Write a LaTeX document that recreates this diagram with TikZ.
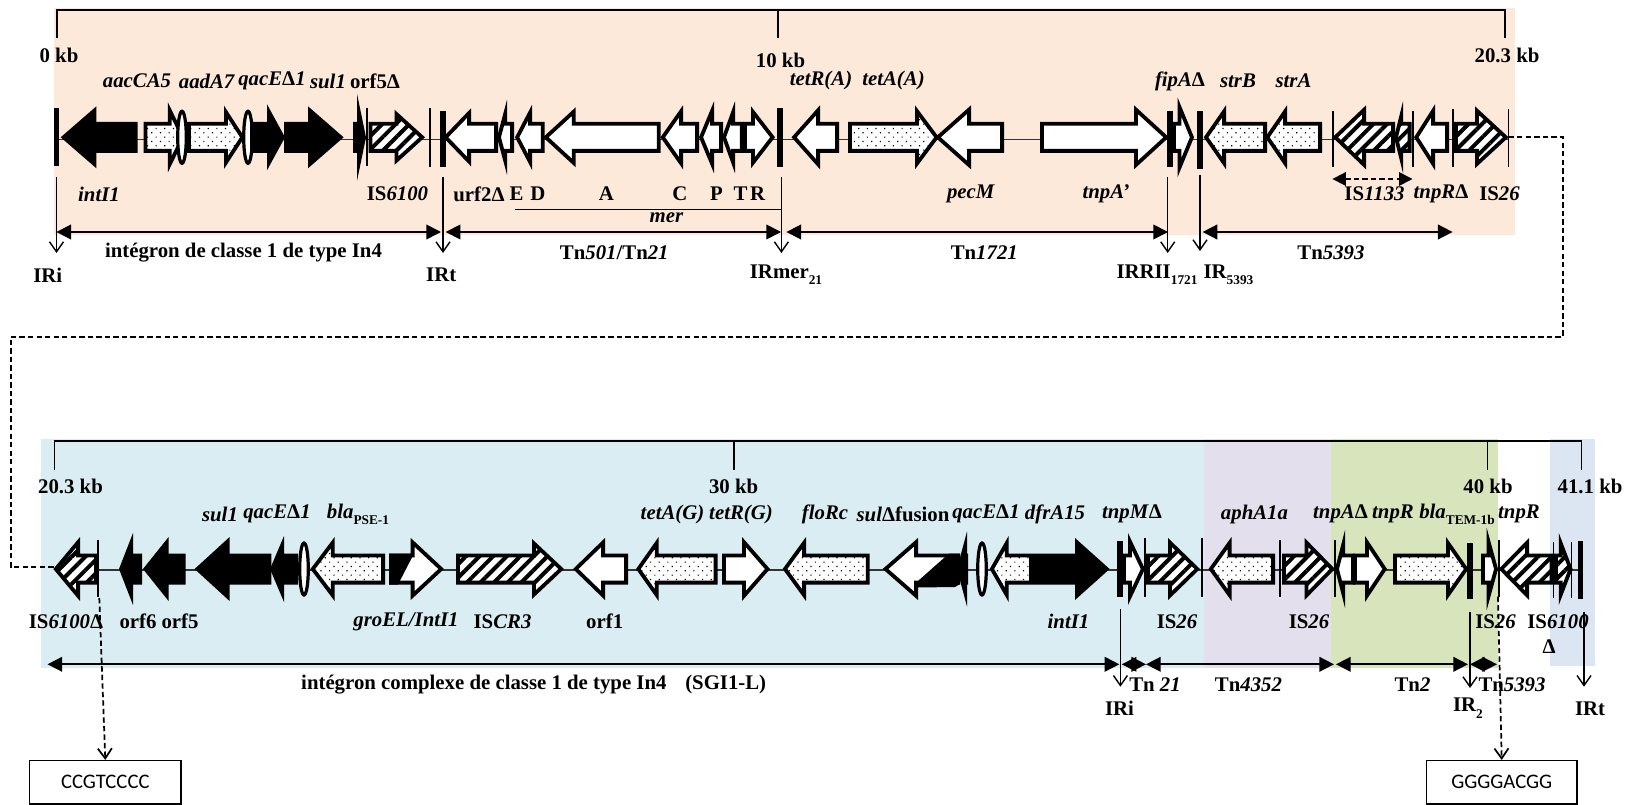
\documentclass[tikz,border=0pt]{standalone}
\usepackage{fontspec}
\setmainfont{Liberation Serif}
\newfontfamily\boxfont{Carlito}
\usetikzlibrary{arrows.meta,patterns.meta}
\newcommand\I[1]{\textit{#1}}
\newcommand\lowsub[1]{\raisebox{-0.3em}{\fontsize{10}{10}\selectfont #1}}
\newcommand\ry{0}
\newcommand\hbody{15.5}
% generic gene: style, tail, base, tip, half head (outer dims), half-stroke
\newcommand\genepath[6]{%
  \pgfmathsetmacro\gs{(#4>#2)?1:-1}%
  \pgfmathsetmacro\gL{abs(#4-#3)}%
  \pgfmathsetmacro\gr{#5*\gL/(#5+sqrt(#5*#5+\gL*\gL))}%
  \pgfmathsetmacro\gk{(\gr-#6)/\gr}%
  \pgfmathsetmacro\gT{#2+\gs*#6}%
  \pgfmathsetmacro\gB{#3+\gs*#6}%
  \pgfmathsetmacro\gP{\gB+\gs*\gL*\gk}%
  \pgfmathsetmacro\gH{#5*\gk}%
  \pgfmathsetmacro\gb{\hbody-#6}%
  \path[#1] (\gT,\ry-\gb) -- (\gB,\ry-\gb) -- (\gB,\ry-\gH) -- (\gP,\ry) -- (\gB,\ry+\gH) -- (\gB,\ry+\gb) -- (\gT,\ry+\gb) -- cycle;}
\newcommand\wgene[4]{\genepath{genew}{#1}{#2}{#3}{#4}{1.9}}
\newcommand\dgene[4]{\genepath{gened}{#1}{#2}{#3}{#4}{1.9}}
\newcommand\hgene[4]{\genepath{geneh}{#1}{#2}{#3}{#4}{1.9}}
\newcommand\bgene[4]{\genepath{geneb}{#1}{#2}{#3}{#4}{0}}
\newcommand\tbar[3]{\draw[thinbar] (#1,#2) -- (#1,#3);}
\newcommand\kbar[3]{\draw[thickbar] (#1,#2) -- (#1,#3);}
\newcommand\lab[4]{\node[lbl] (#1) at (#2,#3) {#4};}
\newcommand\spn[4]{\coordinate (#1a) at (#2,#4); \coordinate (#1b) at (#3,#4); \draw[spanarrow] (#1a) -- (#1b);}
\newcommand\dwn[4]{\coordinate (#1a) at (#2,#3); \coordinate (#1b) at (#2,#4); \draw[downarrow] (#1a) -- (#1b);}
\tikzset{
  x=0.75pt,y=-0.75pt,
  genew/.style={draw=black,line width=2.85pt,fill=white,miter limit=30},
  gened/.style={draw=black,line width=2.85pt,miter limit=30,preaction={fill=white},pattern={Dots[radius=0.62pt,distance=4.6pt,angle=45]}},
  geneh/.style={draw=black,line width=2.85pt,miter limit=30,preaction={fill=white},pattern={Lines[angle=45,distance=7.2pt,line width=3pt]}},
  geneb/.style={fill=black},
  thinbar/.style={draw=black,line width=1.05pt},
  thickbar/.style={draw=black,line width=4.1pt},
  axisline/.style={draw=black,line width=1.25pt},
  backbone/.style={draw=black!80,line width=1.35pt},
  lbl/.style={inner sep=0pt,text=black,font=\bfseries\fontsize{15.6}{17}\selectfont},
  spanarrow/.style={draw=black,line width=1.25pt,{Triangle[length=11pt,width=11pt]}-{Triangle[length=11pt,width=11pt]}},
  downarrow/.style={draw=black,line width=1.05pt,-{Straight Barb[length=7.5pt,width=10.5pt]}},
  dashline/.style={draw=black,line width=1.3pt,dash pattern=on 4pt off 2.4pt},
  seqbox/.style={draw=black,line width=1.05pt,fill=white,inner sep=0pt,font=\boxfont\fontsize{15.5}{18}\selectfont},
  ellip/.style={draw=black,line width=2.4pt,fill=white},
}
\definecolor{peach}{HTML}{FDE9D9}
\definecolor{bleu}{HTML}{DAEDF3}
\definecolor{mauve}{HTML}{E4DFEC}
\definecolor{vert}{HTML}{D8E4BC}
\definecolor{bleub}{HTML}{DCE6F2}
\begin{document}
\begin{tikzpicture}
\useasboundingbox (0,0) rectangle (1626,805);
% backgrounds
\fill[peach] (53.6,8) rectangle (1514.5,235.5);
\fill[bleu] (41,439.3) rectangle (1203.6,668);
\fill[mauve] (1203.6,439.3) rectangle (1331.4,668);
\fill[vert] (1331.4,439.3) rectangle (1498,668);
\fill[bleub] (1550,439.3) rectangle (1594.6,666);
% axes
\draw[axisline] (57,38) -- (57,10) -- (1505,10) -- (1505,38);
\draw[axisline] (778,10) -- (778,38);
\draw[axisline] (54.6,470) -- (54.6,441) -- (1581.4,441) -- (1581.4,470);
\draw[axisline] (734,441) -- (734,470);
\draw[axisline] (1487.4,441) -- (1487.4,470);
% backbones
\draw[backbone] (57,139.5) -- (1508,139.5);
\draw[backbone] (98,570.3) -- (1580,570.3);
% ---------- row 1
\renewcommand\ry{137.3}
\bgene{137.5}{96.4}{60.7}{31}
\dgene{143.6}{167.9}{185}{35}
\draw[ellip] (182,137.3) ellipse [x radius=4.3,y radius=26];
\dgene{187}{224}{244.6}{31.7}
\draw[ellip] (248,137.3) ellipse [x radius=4.3,y radius=26];
\bgene{250}{267}{285}{33}
\bgene{284}{308}{343.6}{31}
\bgene{353}{357}{366}{43.6}
\hgene{368.6}{394.6}{425}{27.5}
\wgene{498}{471}{443}{29}
\wgene{514}{507}{497}{37.5}
\wgene{544.6}{532}{515}{32.5}
\wgene{660.7}{575.7}{543}{30}
\wgene{699}{683}{660.4}{32}
\wgene{723}{714}{699}{36}
\wgene{743.6}{735}{722}{36}
\wgene{743}{751}{775}{31}
\wgene{839}{820}{791.5}{32}
\dgene{848}{915}{939}{32}
\wgene{1004}{971}{935}{32}
\wgene{1040}{1134}{1169}{32}
\wgene{1172}{1177.5}{1194}{40}
\dgene{1267}{1226}{1203.7}{32}
\dgene{1322}{1287}{1265}{32}
\hgene{1395}{1366}{1332.5}{32}
\hgene{1411.5}{1403}{1394}{36}
\wgene{1449}{1435}{1414}{33}
\hgene{1454}{1475}{1508.6}{31}
\kbar{56.6}{108}{166}
\tbar{367}{108}{166}
\tbar{430}{108}{167}
\kbar{443}{111}{167}
\kbar{780}{108}{167}
\kbar{1170}{111}{167}
\kbar{1200}{111}{169}
\tbar{1333}{111}{167}
\tbar{1413}{111}{167}
\tbar{1453}{109}{167}
\tbar{1508.6}{109}{167}
% ---------- row 2
\renewcommand\ry{569}
\hgene{98}{80}{53.3}{32}
\bgene{142}{133}{119}{36}
\bgene{185.7}{168.6}{143}{32}
\bgene{271.4}{229.6}{194.6}{32}
\bgene{298}{284}{270}{33}
\draw[ellip] (304,569) ellipse [x radius=4.3,y radius=26];
\dgene{385}{334.6}{310.4}{32}
\wgene{389}{410.7}{444}{31}
\fill[black] (389,553.5) -- (414,553.5) -- (398,584.5) -- (389,584.5) -- cycle;
\hgene{456}{532}{564}{30}
\wgene{628}{605}{573}{31}
\dgene{717.5}{658.6}{636}{32}
\wgene{722}{742}{770}{32}
\dgene{869.6}{806}{782.6}{32}
\wgene{960}{918}{882.6}{31}
\fill[black] (918,581) -- (949,553.5) -- (960,553.5) -- (960,584) -- (955,587) -- (918,587.5) -- cycle;
\bgene{968}{967}{957}{37.5}
\draw[ellip] (982,569) ellipse [x radius=4.3,y radius=26];
\dgene{1033}{1008.6}{989.7}{33}
\bgene{1033}{1075}{1109.6}{31}
\wgene{1122}{1128}{1145}{36}
\hgene{1146}{1168}{1200}{31}
\dgene{1275}{1231.5}{1208.5}{32}
\hgene{1282}{1304.6}{1335}{31}
\wgene{1355}{1345}{1335}{39}
\wgene{1353}{1365}{1387}{33}
\dgene{1393}{1446}{1468.5}{32}
\wgene{1481}{1486.7}{1498}{41}
\hgene{1553.5}{1529}{1498.6}{31}
\hgene{1554}{1558.8}{1572.6}{36}
\tbar{98}{540}{597}
\kbar{1120}{541}{597}
\tbar{1145}{538}{597}
\tbar{1202}{538}{597}
\tbar{1280}{540}{597}
\tbar{1335}{540}{597}
\kbar{1470}{543}{599}
\tbar{1499}{540}{597}
\tbar{1553.5}{542}{598}
\tbar{1571.6}{542}{598}
\kbar{1580.7}{541}{599}
% mer line
\coordinate (merA) at (515,209.5); \coordinate (merB) at (781,209.5);
\draw[thinbar] (merA) -- (merB);
% spans
\spn{sa}{56.4}{441}{232}
\spn{sb}{445.7}{781}{232}
\spn{sc}{786.4}{1168}{232}
\spn{sd}{1202.6}{1452.6}{232}
\spn{se}{47.5}{1119.3}{664.3}
\spn{sf}{1121.8}{1146}{664.3}
\spn{sg}{1146}{1334}{664.3}
\spn{sh}{1336}{1468}{664.3}
\spn{si}{1470}{1497}{664.3}
\coordinate (isa) at (1332.4,179); \coordinate (isb) at (1412.5,179);
\draw[dashline,{Triangle[length=10pt,width=10pt]}-{Triangle[length=10pt,width=10pt]}] (isa) -- (isb);
% down arrows
\dwn{da}{56.5}{177}{253}
\dwn{db}{443}{177}{253}
\dwn{dc}{781.4}{177}{253}
\dwn{dd}{1167.7}{177}{253}
\dwn{de}{1200}{175}{251}
\dwn{df}{1120.4}{609}{686.7}
\dwn{dg}{1470}{611.7}{688}
\dwn{dh}{1584}{611.7}{686.7}
% row-to-row connector
\coordinate (ca) at (1508.6,137.3);
\coordinate (cb) at (1563,137.3);
\coordinate (cc) at (1563,336.7);
\coordinate (cd) at (10.7,336.7);
\coordinate (ce) at (10.7,566.7);
\coordinate (cf) at (53.6,566.7);
\draw[dashline] (ca) -- (cb) -- (cc) -- (cd) -- (ce) -- (cf);
% boxes
\node[seqbox,minimum width=113.3pt,minimum height=32.5pt] (boxa) at (105.3,782.3) {CCGTCCCC};
\node[seqbox,minimum width=112.9pt,minimum height=32.5pt] (boxb) at (1501.7,782.3) {GGGGACGG};
\coordinate (fa) at (99.3,598);
\coordinate (fb) at (1498,596.7);
\draw[dashline,-{Straight Barb[length=7.5pt,width=10.5pt]}] (fa) -- (boxa.north);
\draw[dashline,-{Straight Barb[length=7.5pt,width=10.5pt]}] (fb) -- (boxb.north);
% labels row 1
\lab{k0}{59}{55}{0 kb}
\lab{k10}{780.5}{60}{10 kb}
\lab{k20}{1507}{55}{20.3 kb}
\lab{t1}{137}{81}{\I{aacCA5}}
\lab{t2}{207}{81}{\I{aadA7}}
\lab{t3}{272}{81}{\I{qacE}Δ\I{1}}
\lab{t4}{328}{81}{\I{sul1}}
\lab{t5}{375}{81}{orf5Δ}
\lab{t6}{821}{81}{\I{tetR(A)}}
\lab{t7}{893.5}{81}{\I{tetA(A)}}
\lab{t8}{1180}{81}{\I{fipA}Δ}
\lab{t9}{1238}{81}{\I{strB}}
\lab{t10}{1293.5}{81}{\I{strA}}
\lab{b1}{99}{194}{\I{intI1}}
\lab{b2}{397.5}{194}{IS\I{6100}}
\lab{b3}{479}{194}{urf2Δ}
\lab{b4}{516.5}{194}{E}
\lab{b5}{538}{194}{D}
\lab{b6}{606.5}{194}{A}
\lab{b7}{680}{194}{C}
\lab{b8}{716.5}{194}{P}
\lab{b9}{740.5}{194}{T}
\lab{b10}{757.5}{194}{R}
\lab{b11}{971}{194}{\I{pecM}}
\lab{b12}{1106}{194}{\I{tnpA’}}
\lab{b13}{1374.5}{194}{IS\I{1133}}
\lab{b14}{1441}{194}{\I{tnpR}Δ}
\lab{b15}{1499.5}{194}{IS\I{26}}
\lab{mer}{666.5}{218}{\I{mer}}
\lab{n1}{243.5}{253}{intégron de classe 1 de type In4}
\lab{n2}{614.3}{253}{Tn\I{501}/Tn\I{21}}
\lab{n3}{984.3}{253}{Tn\I{1721}}
\lab{n4}{1331}{253}{Tn\I{5393}}
\lab{i1}{47.7}{275}{IRi}
\lab{i2}{441.2}{275}{IRt}
\lab{i3}{786}{275}{IRmer\lowsub{21}}
\lab{i4}{1157}{275}{IRRII\lowsub{1721}}
\lab{i5}{1228.5}{275}{IR\lowsub{5393}}
% labels row 2
\lab{k203}{70.5}{486.7}{20.3 kb}
\lab{k30}{733.6}{486.7}{30 kb}
\lab{k40}{1488}{486.7}{40 kb}
\lab{k41}{1590}{486.7}{41.1 kb}
\lab{u1}{220}{514}{\I{sul1}}
\lab{u2}{277}{514}{\I{qacE}Δ\I{1}}
\lab{u3}{358}{514}{\I{bla}\lowsub{PSE-1}}
\lab{u4}{672.5}{514}{\I{tetA(G)}}
\lab{u5}{741}{514}{\I{tetR(G)}}
\lab{u6}{825}{514}{\I{floRc}}
\lab{u7}{903}{514}{\I{sul}Δfusion}
\lab{u8}{986}{514}{\I{qacE}Δ\I{1}}
\lab{u9}{1055}{514}{\I{dfrA15}}
\lab{u10}{1132}{514}{\I{tnpM}Δ}
\lab{u11}{1254.5}{514}{\I{aphA1a}}
\lab{u12}{1340.5}{514}{\I{tnpA}Δ}
\lab{u13}{1393}{514}{\I{tnpR}}
\lab{u14}{1457}{514}{\I{bla}\lowsub{TEM-1b}}
\lab{u15}{1519}{514}{\I{tnpR}}
\lab{v1}{66}{621.7}{IS\I{6100}Δ}
\lab{v2}{138}{621.7}{orf6}
\lab{v3}{180}{621.7}{orf5}
\lab{v4}{406}{621.7}{\I{groEL/IntI1}}
\lab{v5}{502.5}{621.7}{IS\I{CR3}}
\lab{v6}{604.7}{621.7}{orf1}
\lab{v7}{1068.5}{621.7}{\I{intI1}}
\lab{v8}{1177}{621.7}{IS\I{26}}
\lab{v9}{1309}{621.7}{IS\I{26}}
\lab{v10}{1495.5}{621.7}{IS\I{26}}
\lab{v11}{1558}{621.7}{IS\I{6100}}
\lab{v12}{1549}{647}{Δ}
\lab{w1}{533.7}{684.3}{intégron complexe de classe 1 de type In4\hspace{0.9em}(SGI1-L)}
\lab{w2}{1155}{684.3}{Tn \I{21}}
\lab{w3}{1248.5}{684.3}{Tn\I{4352}}
\lab{w4}{1412.5}{684.3}{Tn\I{2}}
\lab{w5}{1512}{684.3}{Tn\I{5393}}
\lab{x1}{1119.5}{708.3}{IRi}
\lab{x2}{1468}{708.3}{IR\lowsub{2}}
\lab{x3}{1590}{708.3}{IRt}
\end{tikzpicture}
\end{document}
